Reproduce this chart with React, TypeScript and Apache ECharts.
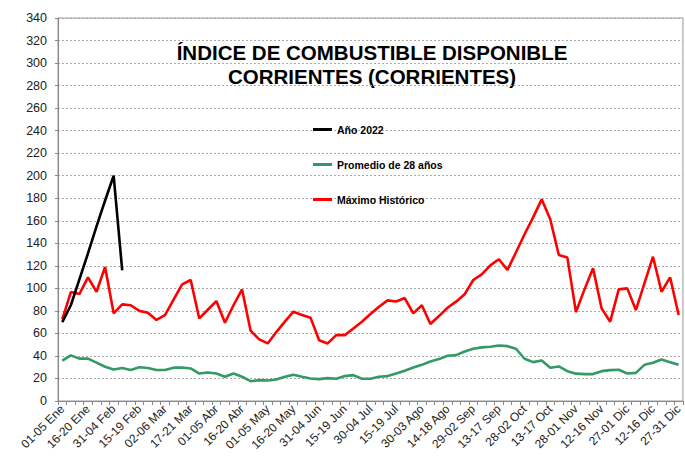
import React, { useEffect, useRef } from "react";
import * as echarts from "echarts";

const categories: string[] = [
  "01-05 Ene", "06-10 Ene", "11-15 Ene", "16-20 Ene", "21-25 Ene", "26-30 Ene",
  "31-04 Feb", "05-09 Feb", "10-14 Feb", "15-19 Feb", "20-24 Feb", "25-01 Mar",
  "02-06 Mar", "07-11 Mar", "12-16 Mar", "17-21 Mar", "22-26 Mar", "27-31 Mar",
  "01-05 Abr", "06-10 Abr", "11-15 Abr", "16-20 Abr", "21-25 Abr", "26-30 Abr",
  "01-05 May", "06-10 May", "11-15 May", "16-20 May", "21-25 May", "26-30 May",
  "31-04 Jun", "05-09 Jun", "10-14 Jun", "15-19 Jun", "20-24 Jun", "25-29 Jun",
  "30-04 Jul", "05-09 Jul", "10-14 Jul", "15-19 Jul", "20-24 Jul", "25-29 Jul",
  "30-03 Ago", "04-08 Ago", "09-13 Ago", "14-18 Ago", "19-23 Ago", "24-28 Ago",
  "29-02 Sep", "03-07 Sep", "08-12 Sep", "13-17 Sep", "18-22 Sep", "23-27 Sep",
  "28-02 Oct", "03-07 Oct", "08-12 Oct", "13-17 Oct", "18-22 Oct", "23-27 Oct",
  "28-01 Nov", "02-06 Nov", "07-11 Nov", "12-16 Nov", "17-21 Nov", "22-26 Nov",
  "27-01 Dic", "02-06 Dic", "07-11 Dic", "12-16 Dic", "17-21 Dic", "22-26 Dic",
  "27-31 Dic",
];

const anio2022: number[] = [70, 85, 108, 131, 155, 178, 200, 116];

const promedio28: number[] = [
  35.8, 40.5, 37.6, 37.6, 34, 30.4, 28, 29.3, 27.5, 29.9, 29.3, 27.5,
  27.5, 29.6, 29.8, 28.9, 24.4, 25.3, 24.4, 21.5, 24.4, 21.5, 17.6, 18.5,
  18.2, 19.1, 21.5, 23.3, 21.5, 20, 19.4, 20.3, 19.7, 22.1, 23, 19.7,
  19.7, 21.5, 22.1, 24.4, 26.8, 29.8, 32.1, 35.1, 37.2, 40.1, 40.7, 44,
  46.4, 47.6, 48.1, 49.3, 48.7, 46.4, 37.5, 34.5, 36, 29.5, 30.7, 26.5,
  24.3, 23.9, 23.9, 26.5, 27.4, 27.7, 24.4, 25, 32.1, 33.9, 36.9, 34.5,
  32.1,
];

const maximoHistorico: number[] = [
  72.5, 96.7, 95, 109.7, 97, 119, 77.8, 85.8, 85, 80, 78.4, 72,
  76.3, 90, 103.6, 107.4, 73.3, 81, 88.7, 69.5, 85, 99, 62.4, 54.7,
  51.1, 61.2, 70.4, 79.3, 76.3, 74, 54, 51.1, 58.5, 58.5, 64.4, 70.4,
  77.2, 83.7, 89.3, 88.4, 91.4, 77.8, 85, 68.3, 75.4, 82.8, 88.2, 94.7,
  107.4, 112.4, 120.4, 125.8, 116.3, 132, 148, 163, 179, 161.3, 129.6, 127.3,
  79, 99.1, 117.8, 82.2, 70.4, 99.1, 100, 80.7, 104.4, 128.1, 97, 109.8,
  76.3,
];

const titleLines: string[] = [
  "ÍNDICE DE COMBUSTIBLE DISPONIBLE",
  "CORRIENTES (CORRIENTES)",
];

const FONT = "'Liberation Sans', Arial, sans-serif";

export default function App() {
  const ref = useRef<HTMLDivElement>(null);

  useEffect(() => {
    if (!ref.current) return;
    const chart = echarts.init(ref.current, undefined, { renderer: "svg" });
    chart.setOption({
      animation: false,
      backgroundColor: "#ffffff",
      textStyle: { fontFamily: FONT },
      graphic: [
        {
          type: "text",
          x: 372,
          y: 52.5,
          style: {
            text: titleLines[0],
            fontFamily: FONT,
            fontSize: 20.5,
            fontWeight: "bold",
            fill: "#000",
            textAlign: "center",
            textVerticalAlign: "middle",
          },
        },
        {
          type: "text",
          x: 372,
          y: 76,
          style: {
            text: titleLines[1],
            fontFamily: FONT,
            fontSize: 20.5,
            fontWeight: "bold",
            fill: "#000",
            textAlign: "center",
            textVerticalAlign: "middle",
          },
        },
      ],
      legend: {
        orient: "vertical",
        left: 308,
        top: 119,
        icon: "rect",
        itemWidth: 19,
        itemHeight: 3,
        itemGap: 24,
        textStyle: {
          fontFamily: FONT,
          fontSize: 10.5,
          fontWeight: "bold",
          color: "#000",
        },
        data: ["Año 2022", "Promedio de 28 años", "Máximo Histórico"],
      },
      grid: {
        left: 58,
        top: 18,
        width: 629,
        height: 383,
        show: true,
        borderColor: "#999",
        borderWidth: 1,
      },
      xAxis: {
        type: "category",
        data: categories,
        boundaryGap: true,
        axisLine: { lineStyle: { color: "#888", width: 1 } },
        axisTick: {
          show: true,
          interval: 0,
          length: 4,
          lineStyle: { color: "#888" },
        },
        axisLabel: {
          interval: 2,
          rotate: 45,
          fontSize: 12,
          color: "#222",
          fontFamily: FONT,
          margin: 6,
        },
        splitLine: { show: false },
      },
      yAxis: {
        type: "value",
        min: 0,
        max: 340,
        interval: 20,
        axisLine: { show: true, lineStyle: { color: "#888", width: 1 } },
        axisTick: { show: true, length: 3, lineStyle: { color: "#888" } },
        axisLabel: {
          fontSize: 12.5,
          color: "#222",
          fontFamily: FONT,
          margin: 11,
        },
        splitLine: {
          show: true,
          lineStyle: { color: "#aaa", type: [2, 2], width: 1 },
        },
      },
      series: [
        {
          name: "Año 2022",
          type: "line",
          data: anio2022,
          showSymbol: false,
          symbol: "none",
          lineStyle: { color: "#000000", width: 2.6 },
          itemStyle: { color: "#000000" },
          z: 5,
        },
        {
          name: "Promedio de 28 años",
          type: "line",
          data: promedio28,
          showSymbol: false,
          symbol: "none",
          lineStyle: { color: "#339966", width: 2.6 },
          itemStyle: { color: "#339966" },
          z: 3,
        },
        {
          name: "Máximo Histórico",
          type: "line",
          data: maximoHistorico,
          showSymbol: false,
          symbol: "none",
          lineStyle: { color: "#ff0000", width: 2.6 },
          itemStyle: { color: "#ff0000" },
          z: 4,
        },
      ],
    });
    return () => chart.dispose();
  }, []);

  return (
    <div
      ref={ref}
      style={{ position: "absolute", left: 0, top: 0, width: 685, height: 464 }}
    />
  );
}
